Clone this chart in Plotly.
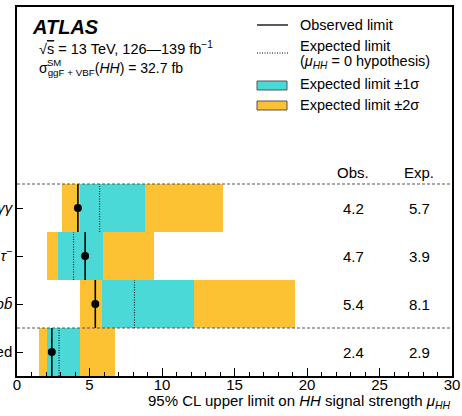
import plotly.graph_objects as go

# ---- data ----
channels = ["<i>bb̄γγ</i>", "<i>bb̄τ</i><sup>+</sup><i>τ</i><sup>−</sup>", "<i>bb̄bb̄</i>", "Combined"]
ypos = [3, 2, 1, 0]
obs = [4.2, 4.7, 5.4, 2.4]
exp = [5.7, 3.9, 8.1, 2.9]
minus2 = [3.1, 2.09, 4.37, 1.55]
minus1 = [4.32, 2.82, 5.84, 2.09]
plus1 = [8.81, 5.93, 12.2, 4.32]
plus2 = [14.2, 9.43, 19.18, 6.74]
xticks = [0, 5, 10, 15, 20, 25, 30]

CYAN = "#4AD9D7"
ORANGE = "#FCC233"
FONT = "Liberation Sans, Arial, Helvetica, sans-serif"
DOT = "1px,1.5px"

W, H = 462, 416
L, R, T, B = 17, 10, 7, 40
PW, PH = W - L - R, H - T - B


def px(x):
    return (x - L) / PW


def py(y):
    return (H - B - y) / PH


fig = go.Figure()

fig.add_trace(go.Bar(orientation="h", y=ypos, base=minus2,
                     x=[b - a for a, b in zip(minus2, plus2)], width=1,
                     marker=dict(color=ORANGE, line=dict(width=0)), showlegend=False))
fig.add_trace(go.Bar(orientation="h", y=ypos, base=minus1,
                     x=[b - a for a, b in zip(minus1, plus1)], width=1,
                     marker=dict(color=CYAN, line=dict(width=0)), showlegend=False))

# expected (dotted) and observed (solid) lines
ex, ey, ox, oy = [], [], [], []
for yv, e, o in zip(ypos, exp, obs):
    ex += [e, e, None]
    ey += [yv - 0.5, yv + 0.5, None]
    ox += [o, o, None]
    oy += [yv - 0.5, yv + 0.5, None]
fig.add_trace(go.Scatter(x=ex, y=ey, mode="lines",
                         line=dict(color="black", width=1, dash=DOT), showlegend=False))
fig.add_trace(go.Scatter(x=ox, y=oy, mode="lines",
                         line=dict(color="black", width=1.6), showlegend=False))
fig.add_trace(go.Scatter(x=obs, y=ypos, mode="markers",
                         marker=dict(color="black", size=8), showlegend=False))

# separators
for yv in [3.5, 0.5]:
    fig.add_shape(type="line", xref="paper", yref="y", x0=0, x1=1, y0=yv, y1=yv,
                  line=dict(color="#555555", width=1, dash="3px,2px"))

# Obs / Exp columns
ann = []
ann.append(dict(x=23.2, y=3.75, text="Obs.", xref="x", yref="y", showarrow=False,
                font=dict(size=15)))
ann.append(dict(x=27.75, y=3.75, text="Exp.", xref="x", yref="y", showarrow=False,
                font=dict(size=15)))
for yv, o, e in zip(ypos, obs, exp):
    ann.append(dict(x=23.2, y=yv, text=f"{o:.1f}", xref="x", yref="y", showarrow=False,
                    font=dict(size=15)))
    ann.append(dict(x=27.75, y=yv, text=f"{e:.1f}", xref="x", yref="y", showarrow=False,
                    font=dict(size=15)))

# ATLAS label
ann.append(dict(x=px(30), y=py(27), xref="paper", yref="paper", xanchor="left",
                yanchor="middle", showarrow=False, text="<b><i>ATLAS</i></b>",
                font=dict(size=20)))
ann.append(dict(x=px(37), y=py(48), xref="paper", yref="paper", xanchor="left",
                yanchor="middle", showarrow=False,
                text="√<span style='text-decoration:overline'>s</span> = 13 TeV, 126—139 fb<sup>−1</sup>",
                font=dict(size=14.5)))
ann.append(dict(x=px(37), y=py(69), xref="paper", yref="paper", xanchor="left",
                yanchor="middle", showarrow=False,
                text="σ<sub>ggF + VBF</sub>(<i>HH</i>) = 32.7 fb",
                font=dict(size=14)))
ann.append(dict(x=px(45), y=py(62), xref="paper", yref="paper", xanchor="left",
                yanchor="middle", showarrow=False, text="SM",
                font=dict(size=9.5)))

# legend
fig.add_shape(type="line", xref="paper", yref="paper", x0=px(257), x1=px(288),
              y0=py(25), y1=py(25), line=dict(color="black", width=1.3))
fig.add_shape(type="line", xref="paper", yref="paper", x0=px(257), x1=px(288),
              y0=py(53), y1=py(53), line=dict(color="black", width=1, dash=DOT))
fig.add_shape(type="rect", xref="paper", yref="paper", x0=px(257), x1=px(287),
              y0=py(90), y1=py(81), fillcolor=CYAN, line=dict(color="#555555", width=1))
fig.add_shape(type="rect", xref="paper", yref="paper", x0=px(257), x1=px(287),
              y0=py(110), y1=py(101), fillcolor=ORANGE, line=dict(color="#555555", width=1))
for ytxt, txt in [(25, "Observed limit"), (46, "Expected limit"),
                  (62, "(<i>μ</i><sub><i>HH</i></sub> = 0 hypothesis)"),
                  (84, "Expected limit ±1σ"), (105, "Expected limit ±2σ")]:
    ann.append(dict(x=px(298), y=py(ytxt), xref="paper", yref="paper", xanchor="left",
                    yanchor="middle", showarrow=False, text=txt, font=dict(size=14.5)))

# x-axis title
ann.append(dict(x=px(453), y=py(401), xref="paper", yref="paper", xanchor="right",
                yanchor="middle", showarrow=False,
                text="95% CL upper limit on <i>HH</i> signal strength <i>μ</i><sub><i>HH</i></sub>",
                font=dict(size=15)))

fig.update_layout(
    width=W, height=H,
    margin=dict(l=L, r=R, t=T, b=B, pad=0, autoexpand=False),
    paper_bgcolor="white", plot_bgcolor="white",
    barmode="overlay", bargap=0,
    font=dict(family=FONT, color="black", size=15),
    annotations=ann,
    showlegend=False,
    xaxis=dict(range=[0, 30], tickvals=xticks, ticks="inside", ticklen=8, tickwidth=1,
               tickcolor="black", showline=True, linecolor="black", linewidth=1.5,
               mirror=True, showgrid=False, zeroline=False, automargin=False,
               ticklabelstandoff=-6,
               minor=dict(dtick=1, ticks="inside", ticklen=4, tickcolor="black", tickwidth=1),
               tickfont=dict(size=15)),
    yaxis=dict(range=[-0.5, 7.1875], tickvals=ypos, ticktext=channels, ticks="inside",
               ticklen=6, tickwidth=1, tickcolor="black", showline=True, linecolor="black",
               linewidth=1.5, mirror=True, showgrid=False, zeroline=False, automargin=False,
               tickfont=dict(size=15)),
)

fig.write_html("out.html")
